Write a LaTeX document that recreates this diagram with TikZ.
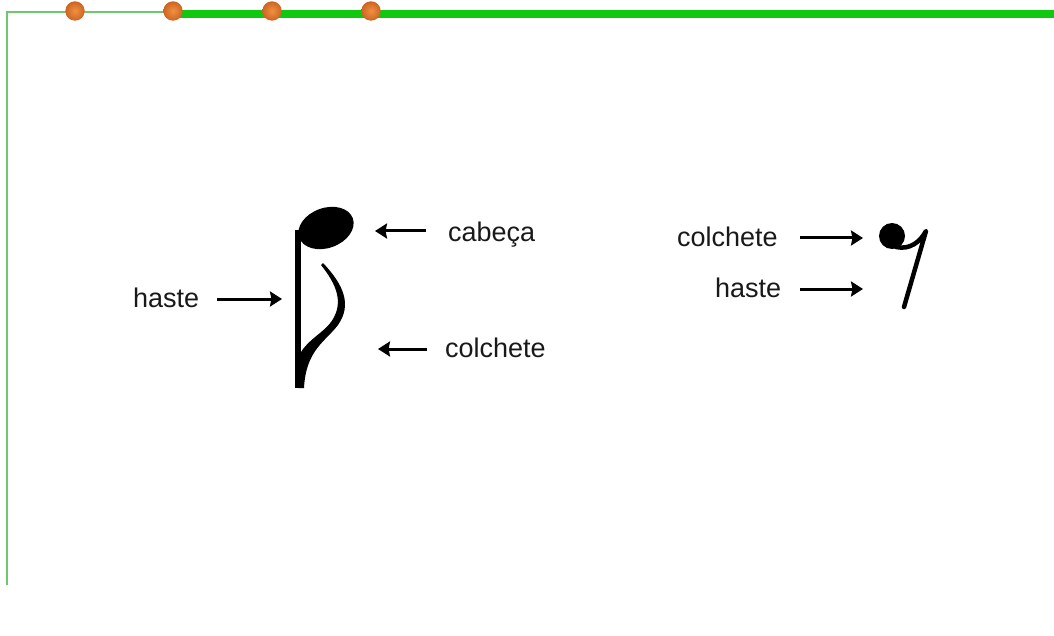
\documentclass[tikz,border=0pt]{standalone}
\usepackage{fontspec}
\setmainfont{Liberation Sans}
\usetikzlibrary{arrows.meta}
\definecolor{thingreen}{RGB}{110,200,110}
\definecolor{thickgreen}{RGB}{15,200,15}
\definecolor{dotorange}{RGB}{205,100,35}
\definecolor{dotlight}{RGB}{240,145,65}
\definecolor{inkgray}{RGB}{25,25,25}
\tikzset{
  lbl/.style={anchor=base west,inner sep=0pt,text=inkgray,font=\fontsize{27}{30}\selectfont},
  arr/.style={line width=3pt,-{Stealth[length=12pt,width=15pt,inset=1.5pt]}},
  dot/.style={inner color=dotlight,outer color=dotorange}
}
\begin{document}
\begin{tikzpicture}[x=1pt,y=-1pt]
\useasboundingbox (0,0) rectangle (1054,636);
% frame lines
\draw[thingreen,line width=1.5pt] (7,585) -- (7,12) -- (173,12);
\draw[thickgreen,line width=8pt] (173,14) -- (1054,14);
\foreach \x in {75,173,272,371}
  \shade[dot] (\x,11) circle (9.7pt);
% first note
\fill (295,230) rectangle (301,388);
\fill[rotate around={20:(326,228)}] (326,228) ellipse [x radius=28.5pt,y radius=20pt];
\fill (323,263) .. controls (344,285) and (352,305) .. (338,325)
  .. controls (325,342) and (306,350) .. (304,388) -- (298,388) -- (298,358)
  .. controls (305,340) and (325,333) .. (333,319)
  .. controls (343,302) and (337,285) .. (321,265) -- cycle;
\coordinate (headpt) at (375,231);
\coordinate (stempt) at (282,299);
\coordinate (flagpt) at (378,349);
% labels left
\node[lbl] (cab) at (448,242) {cabeça};
\node[lbl] (hasteL) at (133,307) {haste};
\node[lbl] (colL) at (445,357) {colchete};
\draw[arr] (426,231) -- (headpt);
\draw[arr] (217,299) -- (stempt);
\draw[arr] (427,349) -- (flagpt);
% rest
\fill (892,236) circle (13pt);
\draw[line width=4.5pt,line cap=round,line join=round] (896,247) .. controls (910,250) and (920,242) .. (926,231) -- (904,307);
\coordinate (restflag) at (863,238);
\coordinate (reststem) at (863,289);
\node[lbl] (colR) at (677,247) {colchete};
\node[lbl] (hasteR) at (715,297) {haste};
\draw[arr] (800,238) -- (restflag);
\draw[arr] (800,289) -- (reststem);
\end{tikzpicture}
\end{document}
